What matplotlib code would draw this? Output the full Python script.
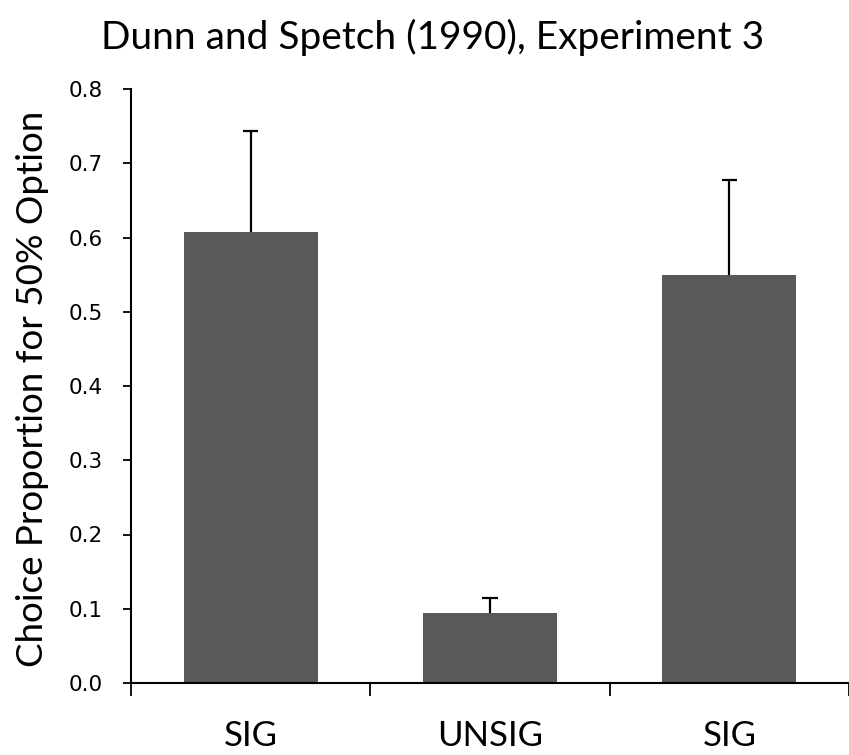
import matplotlib.pyplot as plt
import numpy as np

# values
groups = ['SIG', 'UNSIG', 'SIG']
choice_prop = [0.607, 0.094, 0.550]
err_upper = [0.136, 0.020, 0.128]
yticks = [0.0, 0.1, 0.2, 0.3, 0.4, 0.5, 0.6, 0.7, 0.8]

fig = plt.figure(figsize=(8.49, 7.55), dpi=100)
ax = fig.add_axes([131 / 849, 72 / 755, 718 / 849, 594 / 755])

x = np.arange(len(groups)) + 0.5
tops = np.array(choice_prop) + np.array(err_upper)
ax.bar(x, choice_prop, width=0.56, color='#595959', zorder=2)
# upper error only: stem plus cap
ax.vlines(x, choice_prop, tops, color='black', lw=1.6, zorder=3)
ax.hlines(tops, x - 0.032, x + 0.032, color='black', lw=1.6, zorder=3)

ax.set_xlim(0, 3)
ax.set_ylim(0, 0.8)

# category boundaries get the tick marks, labels sit in between
ax.set_xticks([0, 1, 2, 3])
ax.set_xticklabels([])
ax.set_xticks(x, minor=True)
ax.set_xticklabels(groups, minor=True, fontfamily='Lato', fontsize=25)
ax.tick_params(axis='x', which='major', direction='out', length=9, width=1.3)
ax.tick_params(axis='x', which='minor', length=0, pad=27)

ax.set_yticks(yticks)
ax.set_yticklabels(['%.1f' % v for v in yticks], fontfamily='DejaVu Sans',
                   fontsize=15.5)
ax.tick_params(axis='y', direction='out', length=6, width=1.3, pad=14)

for s in ['top', 'right']:
    ax.spines[s].set_visible(False)
for s in ['left', 'bottom']:
    ax.spines[s].set_linewidth(1.5)

fig.text(0.51, 0.95, 'Dunn and Spetch (1990), Experiment 3', ha='center',
         va='center', fontfamily='Lato', fontsize=28)
fig.text(0.038, 0.485, 'Choice Proportion for 50% Option', ha='center',
         va='center', rotation=90, fontfamily='Lato', fontsize=26.5)

fig.savefig('out.png', dpi=100)
